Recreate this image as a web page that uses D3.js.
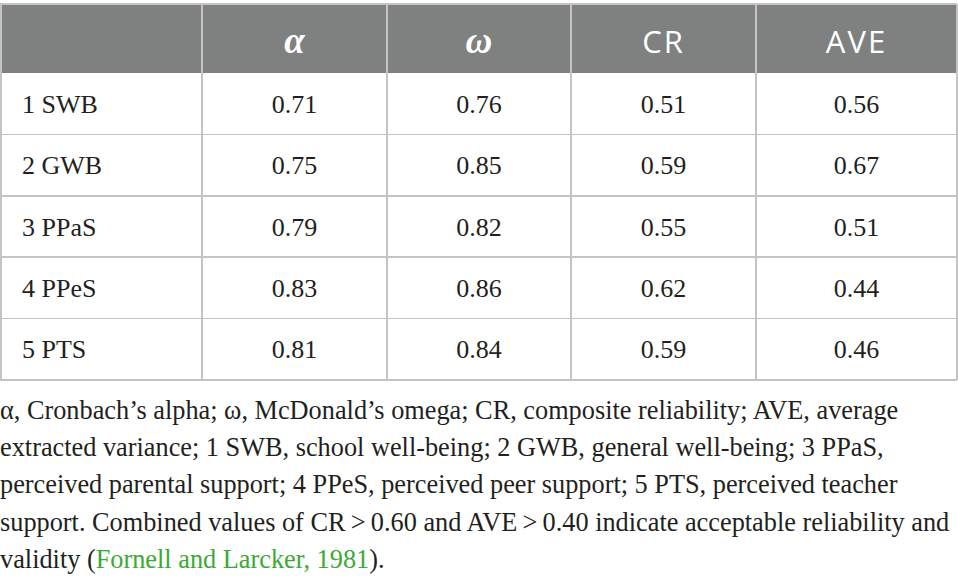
<!DOCTYPE html>
<html>
<head>
<meta charset="utf-8">
<script src="https://cdn.jsdelivr.net/npm/d3@7"></script>
<style>
  body { margin: 0; background: #fff; }
  svg { display: block; }
</style>
</head>
<body>
<script>
// Table data
const headers = ["", "α", "ω", "CR", "AVE"];
const scales = ["1 SWB", "2 GWB", "3 PPaS", "4 PPeS", "5 PTS"];
const alpha = [0.71, 0.75, 0.79, 0.83, 0.81];
const omega = [0.76, 0.85, 0.82, 0.86, 0.84];
const cr = [0.51, 0.59, 0.55, 0.62, 0.59];
const ave = [0.56, 0.67, 0.51, 0.44, 0.46];

const footLines = [
    "α, Cronbach’s alpha; ω, McDonald’s omega; CR, composite reliability; AVE, average",
    "extracted variance; 1 SWB, school well-being; 2 GWB, general well-being; 3 PPaS,",
    "perceived parental support; 4 PPeS, perceived peer support; 5 PTS, perceived teacher",
    "support. Combined values of CR\u2009>\u20090.60 and AVE\u2009>\u20090.40 indicate acceptable reliability and"
];
const citeText = "Fornell and Larcker, 1981";

// Layout
const W = 958, H = 582;
const colEdges = [0, 202, 387, 571, 756, 957];
const headTop = 4, headBottom = 73, tableBottom = 380;
const serif = "'Liberation Serif', 'DejaVu Serif', serif";
const sans = "'Open Sans', 'Noto Sans', sans-serif";
const textColor = "#231f20";
const lineColor = "#c4c4c4";

const svg = d3.select("body").append("svg")
    .attr("width", W)
    .attr("height", H);

const y = d3.scaleBand().domain(scales).range([headBottom, tableBottom]);
const colMid = i => (colEdges[i] + colEdges[i + 1]) / 2;

// header band
svg.append("rect")
    .attr("x", colEdges[0]).attr("y", headTop)
    .attr("width", colEdges[5] - colEdges[0]).attr("height", headBottom - headTop)
    .attr("fill", "#7f8180");

headers.forEach((h, i) => {
    if (!h) return;
    const greek = h === "α" || h === "ω";
    svg.append("text")
        .attr("x", colMid(i))
        .attr("y", 53)
        .attr("text-anchor", "middle")
        .attr("fill", "#fff")
        .style("font-family", greek ? serif : sans)
        .style("font-size", greek ? "37px" : "31px")
        .style("letter-spacing", greek ? "0px" : "2px")
        .style("font-weight", greek ? "bold" : "normal")
        .style("font-style", greek ? "italic" : "normal")
        .text(h);
});

// body rows
const fmt = d3.format(".2f");
const cols = [alpha, omega, cr, ave];
const body = svg.append("g")
    .style("font-family", serif)
    .style("font-size", "26px")
    .attr("fill", textColor);

scales.forEach((s, r) => {
    const base = y(s) + y.bandwidth() / 2 + 9;
    body.append("text")
        .attr("x", 22)
        .attr("y", base)
        .text(s);
    cols.forEach((vals, c) => {
        body.append("text")
            .attr("x", colMid(c + 1))
            .attr("y", base)
            .attr("text-anchor", "middle")
            .text(fmt(vals[r]));
    });
});

// grid lines
const grid = svg.append("g")
    .attr("stroke", lineColor)
    .attr("stroke-width", 1.5)
    .attr("shape-rendering", "crispEdges");

grid.append("line")
    .attr("x1", colEdges[0]).attr("x2", colEdges[5])
    .attr("y1", headTop).attr("y2", headTop);

scales.forEach(s => {
    grid.append("line")
        .attr("x1", colEdges[0]).attr("x2", colEdges[5])
        .attr("y1", y(s) + y.bandwidth()).attr("y2", y(s) + y.bandwidth());
});

colEdges.forEach(x => {
    grid.append("line")
        .attr("x1", x + (x === 0 ? 0.75 : 0)).attr("x2", x + (x === 0 ? 0.75 : 0))
        .attr("y1", headTop).attr("y2", tableBottom);
});

// footnote
const foot = svg.append("g")
    .style("font-family", serif)
    .style("font-size", "26.3px")
    .attr("fill", textColor);

footLines.forEach((line, i) => {
    foot.append("text")
        .attr("x", 0)
        .attr("y", 419 + i * 37.2)
        .text(line);
});

const last = foot.append("text")
    .attr("x", 0)
    .attr("y", 419 + 4 * 37.2);
last.append("tspan").text("validity (");
last.append("tspan").attr("fill", "#3aaa35").text(citeText);
last.append("tspan").text(").");
</script>
</body>
</html>
